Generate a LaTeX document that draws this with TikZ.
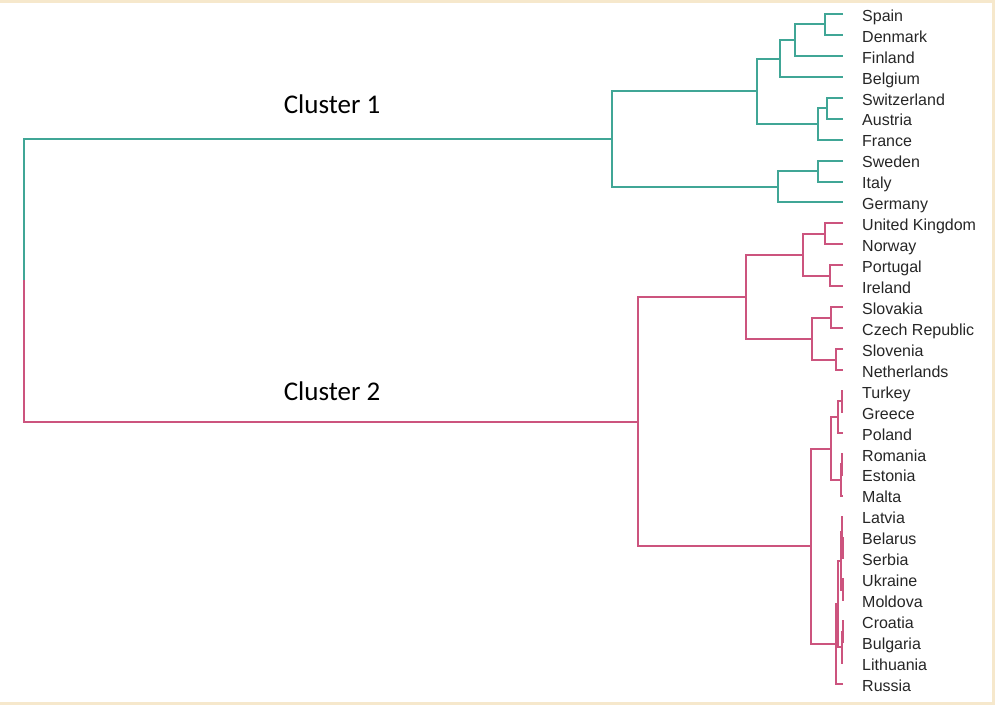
\documentclass[tikz,border=0pt]{standalone}
\usepackage{fontspec}
\setmainfont{Liberation Sans}
\newfontfamily\clusterfont{Carlito}
\usepackage{tikz}
\usetikzlibrary{calc}
\definecolor{cteal}{RGB}{64,166,150}
\definecolor{cpink}{RGB}{204,84,126}
\definecolor{cframe}{RGB}{246,232,204}

% join two branches: name, style, height, child a, child b
\newcommand{\dlink}[5]{%
  \path let \p1 = (#4), \p2 = (#5) in (#3pt, {(\y1+\y2)/2}) coordinate (#1);
  \draw [#2] (#4) -| (#1) |- (#5);
}

\begin{document}
\begin{tikzpicture}[x=1pt, y=-1pt,
    tealbranch/.style={cteal, line width=2},
    pinkbranch/.style={cpink, line width=2},
    leaf/.style={anchor=west, inner sep=0, text height=11.5pt, text depth=0pt,
      text=black!85, font=\fontsize{16}{18}\selectfont},
    clabel/.style={inner sep=0, font=\clusterfont\fontsize{27}{30}\selectfont}]
  \useasboundingbox (0, 0) rectangle (995, 705);
  \draw [cframe, line width=3] (0, 1.5) -- (993.5, 1.5) -- (993.5, 703.5) -- (0, 703.5);

  \foreach \name [count=\i from 0] in {Spain, Denmark, Finland, Belgium, Switzerland,
      Austria, France, Sweden, Italy, Germany, United Kingdom, Norway, Portugal,
      Ireland, Slovakia, Czech Republic, Slovenia, Netherlands, Turkey, Greece,
      Poland, Romania, Estonia, Malta, Latvia, Belarus, Serbia, Ukraine, Moldova,
      Croatia, Bulgaria, Lithuania, Russia} {
    \coordinate (e\i) at (843, {14+20.94*\i});
    \node [leaf] (n\i) at (862, {15.5+20.94*\i}) {\name};
  }

  % cluster 1
  \dlink{a1}{tealbranch}{825}{e0}{e1}
  \dlink{a2}{tealbranch}{795}{a1}{e2}
  \dlink{a3}{tealbranch}{780}{a2}{e3}
  \dlink{a4}{tealbranch}{827}{e4}{e5}
  \dlink{a5}{tealbranch}{818}{a4}{e6}
  \dlink{a6}{tealbranch}{757}{a3}{a5}
  \dlink{a7}{tealbranch}{818}{e7}{e8}
  \dlink{a8}{tealbranch}{778}{a7}{e9}
  \dlink{a9}{tealbranch}{612}{a6}{a8}

  % cluster 2
  \dlink{b1}{pinkbranch}{825}{e10}{e11}
  \dlink{b2}{pinkbranch}{830}{e12}{e13}
  \dlink{b3}{pinkbranch}{803}{b1}{b2}
  \dlink{b4}{pinkbranch}{831}{e14}{e15}
  \dlink{b5}{pinkbranch}{836}{e16}{e17}
  \dlink{b6}{pinkbranch}{812}{b4}{b5}
  \dlink{b7}{pinkbranch}{746}{b3}{b6}
  \dlink{b8}{pinkbranch}{841.5}{e18}{e19}
  \dlink{b9}{pinkbranch}{838}{b8}{e20}
  \dlink{b10}{pinkbranch}{842}{e21}{e22}
  \dlink{b11}{pinkbranch}{840.5}{b10}{e23}
  \dlink{b12}{pinkbranch}{831}{b9}{b11}
  \dlink{b13}{pinkbranch}{842.5}{e25}{e26}
  \dlink{b14}{pinkbranch}{841.5}{e24}{b13}
  \dlink{b15}{pinkbranch}{842.5}{e27}{e28}
  \dlink{b16}{pinkbranch}{841}{b14}{b15}
  \dlink{b17}{pinkbranch}{842.5}{e29}{e30}
  \dlink{b18}{pinkbranch}{841.5}{b17}{e31}
  \dlink{b19}{pinkbranch}{837.5}{b16}{b18}
  \dlink{b20}{pinkbranch}{836}{b19}{e32}
  \dlink{b21}{pinkbranch}{811}{b12}{b20}
  \dlink{b22}{pinkbranch}{638}{b7}{b21}

  % root
  \path let \p1 = (a9), \p2 = (b22) in (24pt, {(\y1+\y2)/2}) coordinate (root);
  \draw [tealbranch] (a9) -| (root);
  \draw [pinkbranch] (root) |- (b22);

  \node [clabel] (k1) at (332, 104) {Cluster 1};
  \node [clabel] (k2) at (332, 391) {Cluster 2};
\end{tikzpicture}
\end{document}
